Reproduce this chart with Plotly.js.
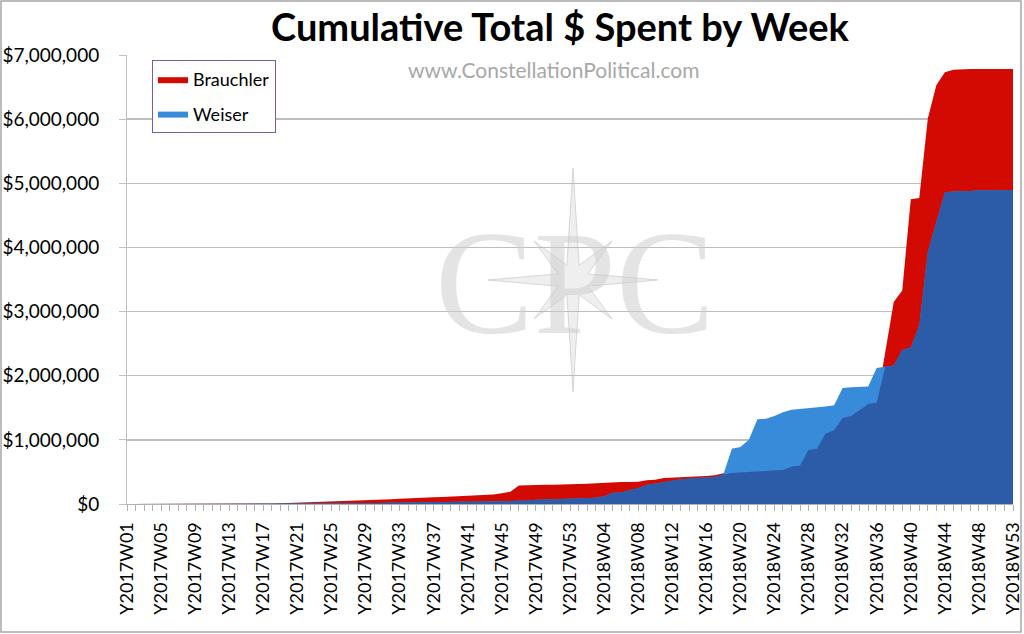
<!DOCTYPE html>
<html>
<head>
<meta charset="utf-8">
<script src="https://cdn.plot.ly/plotly-3.0.1.min.js"></script>
<style>
  html, body { margin: 0; padding: 0; background: #ffffff; }
  #chart { width: 1024px; height: 634px; }
</style>
</head>
<body>
<div id="chart"></div>
<script>
// ---- Data ----
const weeks = [
  "Y2017W01","Y2017W02","Y2017W03","Y2017W04","Y2017W05","Y2017W06","Y2017W07","Y2017W08","Y2017W09","Y2017W10",
  "Y2017W11","Y2017W12","Y2017W13","Y2017W14","Y2017W15","Y2017W16","Y2017W17","Y2017W18","Y2017W19","Y2017W20",
  "Y2017W21","Y2017W22","Y2017W23","Y2017W24","Y2017W25","Y2017W26","Y2017W27","Y2017W28","Y2017W29","Y2017W30",
  "Y2017W31","Y2017W32","Y2017W33","Y2017W34","Y2017W35","Y2017W36","Y2017W37","Y2017W38","Y2017W39","Y2017W40",
  "Y2017W41","Y2017W42","Y2017W43","Y2017W44","Y2017W45","Y2017W46","Y2017W47","Y2017W48","Y2017W49","Y2017W50",
  "Y2017W51","Y2017W52","Y2017W53",
  "Y2018W01","Y2018W02","Y2018W03","Y2018W04","Y2018W05","Y2018W06","Y2018W07","Y2018W08","Y2018W09","Y2018W10",
  "Y2018W11","Y2018W12","Y2018W13","Y2018W14","Y2018W15","Y2018W16","Y2018W17","Y2018W18","Y2018W19","Y2018W20",
  "Y2018W21","Y2018W22","Y2018W23","Y2018W24","Y2018W25","Y2018W26","Y2018W27","Y2018W28","Y2018W29","Y2018W30",
  "Y2018W31","Y2018W32","Y2018W33","Y2018W34","Y2018W35","Y2018W36","Y2018W37","Y2018W38","Y2018W39","Y2018W40",
  "Y2018W41","Y2018W42","Y2018W43","Y2018W44","Y2018W45","Y2018W46","Y2018W47","Y2018W48","Y2018W49","Y2018W50",
  "Y2018W51","Y2018W53"
];

const brauchler = [
  0,0,0,0,0,0,0,0,0,0,
  0,0,0,0,0,0,3000,8000,12000,16000,
  21000,25000,30000,34000,38000,41000,45000,48000,52000,60000,
  68000,74000,82000,90000,98000,102000,106000,110000,115000,120000,
  127000,133000,140000,150000,168000,190000,290000,296000,300000,301000,
  302000,302000,303000,
  310000,316000,325000,333000,338000,343000,344000,346000,370000,380000,
  405000,410000,415000,420000,430000,437000,448000,480000,485000,490000,
  495000,500000,515000,525000,530000,580000,600000,840000,860000,1100000,
  1150000,1340000,1370000,1460000,1560000,1580000,2370000,3150000,3330000,4750000,
  4770000,6010000,6530000,6730000,6770000,6780000,6780000,6780000,6780000,6780000,
  6780000,6780000
];

const weiser = [
  0,0,0,0,0,0,0,0,0,0,
  0,0,0,0,0,0,0,0,0,0,
  2000,3000,5000,6000,8000,9000,10000,12000,13000,15000,
  16000,18000,20000,22000,25000,27000,28000,30000,32000,34000,
  36000,38000,40000,42000,45000,48000,50000,53000,66000,70000,
  75000,80000,84000,
  88000,92000,98000,120000,175000,180000,220000,245000,300000,318000,
  340000,365000,385000,397000,405000,410000,420000,460000,860000,890000,
  1000000,1320000,1330000,1370000,1430000,1470000,1480000,1490000,1510000,1520000,
  1540000,1810000,1820000,1820000,1830000,2120000,2140000,2160000,2400000,2440000,
  2790000,3930000,4400000,4860000,4870000,4870000,4880000,4890000,4890000,4890000,
  4890000,4890000
];

const yTicks = [0, 1000000, 2000000, 3000000, 4000000, 5000000, 6000000, 7000000];
const yTickLabels = ["$0", "$1,000,000", "$2,000,000", "$3,000,000", "$4,000,000", "$5,000,000", "$6,000,000", "$7,000,000"];

// ---- Derived: overlap of the two areas (drawn dark blue) ----
const overlap = brauchler.map((b, i) => Math.min(b, weiser[i]));
const tickText = weeks.map((w, i) => (i % 4 === 0 ? w : ""));

const RED = "#d20a02";
const LIGHT = "#378bd9";
const DARK = "#2c5ca8";
const FONT = "Lato, 'Open Sans', sans-serif";

const traces = [
  { x: weeks, y: brauchler, name: "Brauchler", type: "scatter", mode: "lines",
    fill: "tozeroy", fillcolor: RED, line: { width: 0, color: RED },
    legendgroup: "b", hoverinfo: "skip" },
  { x: weeks, y: weiser, name: "Weiser", type: "scatter", mode: "lines",
    fill: "tozeroy", fillcolor: LIGHT, line: { width: 0, color: LIGHT },
    legendgroup: "w", hoverinfo: "skip" },
  { x: weeks, y: overlap, name: "overlap", type: "scatter", mode: "lines",
    fill: "tozeroy", fillcolor: DARK, line: { width: 0, color: DARK },
    showlegend: false, hoverinfo: "skip" }
];

// plot-area geometry in pixels (for decorative paper-space shapes)
const L = 127, R = 1013, T = 55, B = 504;
const px = X => (X - L) / (R - L);
const py = Y => (B - Y) / (B - T);

// compass star watermark
function starPath(cx, cy) {
  const pts = [];
  const n = 16;
  for (let k = 0; k < n; k++) {
    const ang = -Math.PI / 2 + k * Math.PI * 2 / n;
    let r;
    if (k % 2 === 1) r = 16;
    else if (k % 8 === 0) r = 112;   // N / S
    else if (k % 4 === 0) r = 85;    // E / W
    else r = 55;                     // diagonals
    pts.push([cx + r * Math.cos(ang), cy + r * Math.sin(ang)]);
  }
  return "M " + pts.map(p => px(p[0]).toFixed(4) + "," + py(p[1]).toFixed(4)).join(" L ") + " Z";
}

const layout = {
  width: 1024, height: 634,
  margin: { l: L, r: 1024 - R, t: T, b: 634 - B },
  paper_bgcolor: "#ffffff", plot_bgcolor: "#ffffff",
  font: { family: FONT, size: 18, color: "#000000" },
  title: {
    text: "<b>Cumulative Total $ Spent by Week</b>",
    font: { family: FONT, size: 38, color: "#000000" },
    x: px(560), xanchor: "center", xref: "paper",
    y: 30, yanchor: "middle", yref: "container"
  },
  showlegend: true,
  legend: {
    x: px(152), y: py(60), xanchor: "left", yanchor: "top",
    bgcolor: "#ffffff", bordercolor: "#7a5aa6", borderwidth: 1,
    font: { family: FONT, size: 18, color: "#000000" },
    traceorder: "grouped", tracegroupgap: 8, itemwidth: 30
  },
  xaxis: {
    type: "category",
    range: [0, weeks.length - 1],
    tickmode: "array", tickvals: weeks, ticktext: tickText,
    tickangle: -90,
    tickfont: { family: FONT, size: 18, color: "#000000" },
    ticks: "outside", ticklen: 6, tickcolor: "#b0b0b0", tickwidth: 1,
    showline: true, linecolor: "#b0b0b0", linewidth: 1,
    showgrid: false, zeroline: false, fixedrange: true,
    ticklabelstandoff: 4
  },
  yaxis: {
    range: [0, 7000000],
    tickmode: "array", tickvals: yTicks, ticktext: yTickLabels,
    tickfont: { family: FONT, size: 19, color: "#000000" },
    ticks: "outside", ticklen: 7, tickcolor: "#c0c0c0",
    showline: true, linecolor: "#c0c0c0", linewidth: 1,
    showgrid: true, gridcolor: "#bdbdbd", gridwidth: 1.5,
    zeroline: false, fixedrange: true,
    ticklabelstandoff: 16
  },
  shapes: [
    { type: "path", xref: "paper", yref: "paper", path: starPath(573, 280),
      fillcolor: "rgba(220,220,220,0.45)", line: { color: "rgba(200,200,200,0.7)", width: 1 },
      layer: "below" },
    { type: "rect", xref: "paper", yref: "paper",
      x0: px(1), x1: px(1021), y0: py(632), y1: py(1),
      line: { color: "#a6a6a6", width: 1.5 }, fillcolor: "rgba(0,0,0,0)", layer: "above" }
  ],
  annotations: [
    { text: "www.ConstellationPolitical.com", xref: "paper", yref: "paper",
      x: px(553), y: py(70), xanchor: "center", yanchor: "middle", showarrow: false,
      font: { family: FONT, size: 21, color: "#a8a8a8" } },
    { text: "CPC", xref: "paper", yref: "paper",
      x: px(575), y: py(283), xanchor: "center", yanchor: "middle", showarrow: false,
      font: { family: "'Liberation Serif', 'DejaVu Serif', serif", size: 148, color: "rgba(205,205,205,0.55)" } }
  ]
};

Plotly.newPlot("chart", traces, layout, { displayModeBar: false, staticPlot: true });
</script>
</body>
</html>
